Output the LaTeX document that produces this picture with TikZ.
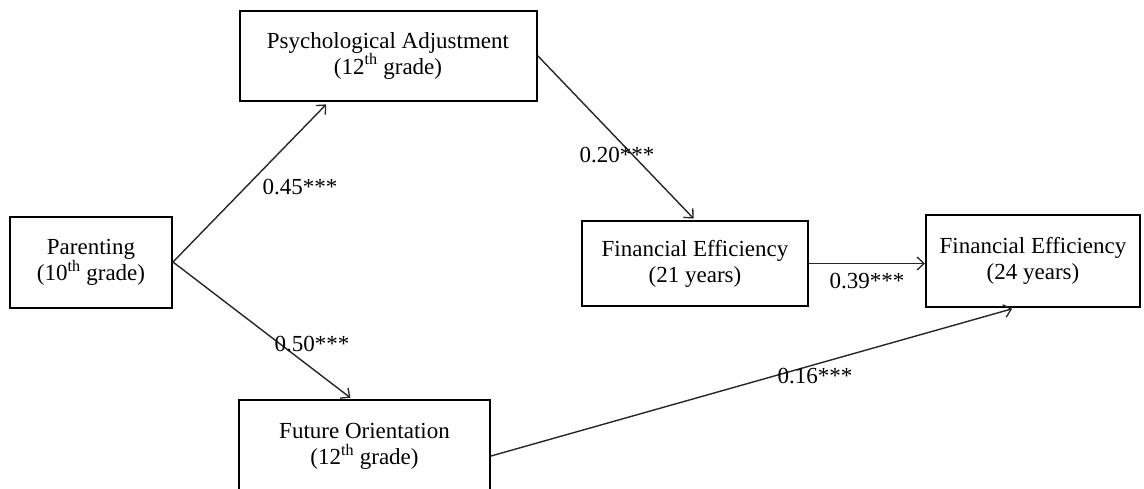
\documentclass[tikz,border=0pt]{standalone}
\usepackage{fontspec}
\setmainfont{Liberation Serif}
\usetikzlibrary{arrows.meta}
\begin{document}
\begin{tikzpicture}[x=1pt,y=-1pt,
  box/.style={draw=black,line width=2pt,rectangle,align=center,inner sep=0pt,
    font=\fontsize{23}{26}\selectfont},
  lab/.style={inner sep=0pt,font=\fontsize{23}{26}\selectfont},
  arr/.style={draw=black!85,line width=1.4pt,-{Straight Barb[length=7pt,width=13pt,line width=1.3pt]}}]
\useasboundingbox (0,0) rectangle (1144,488);
\clip (0,0) rectangle (1144,488);
\node[box,minimum width=162pt,minimum height=91pt] (par) at (91,262) {Parenting\\(10\textsuperscript{th} grade)};
\node[box,minimum width=297pt,minimum height=90pt] (psy) at (388,55.5) {Psychological Adjustment\\(12\textsuperscript{th} grade)};
\node[box,minimum width=226pt,minimum height=85pt] (fe21) at (695,263.5) {Financial Efficiency\\(21 years)};
\node[box,minimum width=214pt,minimum height=92pt] (fe24) at (1033,261) {Financial Efficiency\\(24 years)};
\node[box,minimum width=251pt,minimum height=92pt] (fo) at (364.5,446) {Future Orientation\\(12\textsuperscript{th} grade)};
\draw[arr,shorten >=4pt] (par.east) -- ([xshift=-59pt]psy.south);
\draw[arr,shorten >=2pt] (par.east) -- ([xshift=-12.5pt]fo.north);
\draw[arr,shorten >=2pt] (psy.east) -- (fe21.north);
\draw[arr] (fe21.east) -- (fe21.east -| fe24.west);
\draw[arr,shorten >=3pt] ([yshift=-10pt]fo.east) -- ([xshift=-18pt]fe24.south);
\node[lab] (l1) at (300,187) {0.45***};
\node[lab] (l2) at (617,155) {0.20***};
\node[lab] (l3) at (867,281) {0.39***};
\node[lab] (l4) at (312,344) {0.50***};
\node[lab] (l5) at (815,376) {0.16***};
\end{tikzpicture}
\end{document}
